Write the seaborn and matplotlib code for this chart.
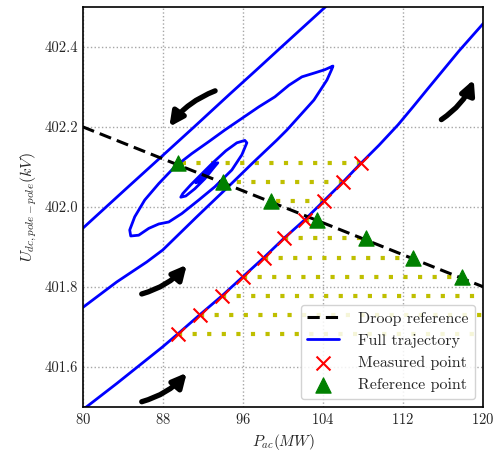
import numpy as np
import pandas as pd
import matplotlib
matplotlib.use('Agg')
import matplotlib.pyplot as plt
import seaborn as sns

# droop reference line (MW, kV)
droop_p = [80.0, 120.0]
droop_u = [402.2, 401.8]

# measured points on the trajectory and matching droop reference points
meas_p = [89.5, 91.7, 93.9, 96.0, 98.1, 100.1, 102.2, 104.1, 106.0, 107.8]
meas_u = [401.682, 401.730, 401.777, 401.825, 401.873, 401.921, 401.968, 402.015, 402.062, 402.109]
ref_p = [132.2, 127.4, 122.6, 117.9, 113.0, 108.3, 103.4, 98.8, 94.0, 89.5]
ref_u = meas_u

# full trajectory (goes outside the axes between sweeps)
traj_p = [79.0, 80.4, 83.4, 85.7, 88.0, 89.5, 91.7, 93.9, 96.0, 98.1, 100.1, 102.2, 104.1, 106.0, 107.8,
          109.6, 111.5, 113.0, 114.5, 117.6, 120.0, 122.0, 123.5,
          124.5, 124.0, 115.0, 107.5,
          105.0, 102.5, 100.0, 97.3, 94.7, 91.1, 87.5, 84.2, 80.0, 78.0,
          76.5, 76.0, 77.0, 78.5,
          80.0, 83.4, 86.4, 88.0, 91.4, 94.7, 97.0, 99.4, 100.4, 103.1, 104.4, 104.9, 105.0,
          104.2, 103.2, 101.9, 100.6, 99.2, 97.6, 95.9, 94.2, 92.6, 90.9, 89.2, 87.6, 86.2, 85.2, 84.7, 84.8,
          85.6, 86.6, 87.6, 88.6, 89.9, 91.6, 93.2, 94.9, 95.9, 96.4, 96.2,
          95.4, 94.3, 93.0, 91.8, 90.8, 90.0, 89.8, 90.3, 91.2, 92.2, 93.0, 93.5, 93.2,
          92.4, 91.6, 91.3, 91.7, 92.4, 92.8, 92.4, 92.0]
traj_u = [401.480, 401.500, 401.558, 401.604, 401.650, 401.682, 401.730, 401.777, 401.825, 401.873, 401.921,
          401.968, 402.015, 402.062, 402.109,
          402.154, 402.205, 402.250, 402.296, 402.390, 402.458, 402.510, 402.545,
          402.575, 402.610, 402.640, 402.580,
          402.517, 402.460, 402.403, 402.341, 402.282, 402.199, 402.117, 402.042, 401.946, 401.900,
          401.850, 401.790, 401.740, 401.735,
          401.748, 401.812, 401.862, 401.892, 401.975, 402.054, 402.110, 402.167, 402.192, 402.267, 402.317,
          402.345, 402.352,
          402.343, 402.335, 402.325, 402.304, 402.275, 402.250, 402.221, 402.192, 402.163, 402.133, 402.100,
          402.058, 402.017, 401.975, 401.942, 401.927,
          401.929, 401.946, 401.957, 401.962, 401.983, 402.017, 402.050, 402.092, 402.130, 402.160, 402.166,
          402.160, 402.140, 402.110, 402.080, 402.055, 402.033, 402.024, 402.027, 402.045, 402.070, 402.095,
          402.110, 402.108,
          402.090, 402.070, 402.060, 402.064, 402.082, 402.094, 402.088, 402.078]

# direction arrows: (start, end)
arrows = [((85.9, 401.5125), (90.4, 401.585)),
          ((85.9, 401.782), (90.4, 401.855)),
          ((93.23, 402.29), (88.66, 402.2)),
          ((115.83, 402.218), (119.06, 402.318))]

traj = pd.DataFrame({'P': traj_p, 'U': traj_u})

sns.set_style('whitegrid')
plt.rcParams['font.family'] = 'serif'
plt.rcParams['font.serif'] = ['cmr10']
plt.rcParams['mathtext.fontset'] = 'cm'
plt.rcParams['axes.formatter.use_mathtext'] = True

fig, ax = plt.subplots(figsize=(4.95, 4.57), dpi=100)
fig.subplots_adjust(left=0.167, right=0.976, bottom=0.110, top=0.985)

ax.plot(droop_p, droop_u, color='k', lw=2.2, dashes=(4, 2), label='Droop reference', zorder=3)
sns.lineplot(data=traj, x='P', y='U', sort=False, estimator=None, color='b', lw=2,
             label='Full trajectory', ax=ax, zorder=2)
ax.hlines(meas_u, meas_p, ref_p, colors=(0.75, 0.75, 0), linestyles=(0, (1, 2.5)), lw=3, zorder=1)
sns.scatterplot(x=meas_p, y=meas_u, marker='x', color='r', s=100, linewidth=1.5,
                label='Measured point', ax=ax, zorder=4)
sns.scatterplot(x=ref_p, y=ref_u, marker='^', color='g', edgecolor='g', s=120,
                label='Reference point', ax=ax, zorder=4)

for (x0, y0), (x1, y1) in arrows:
    ax.annotate('', xy=(x1, y1), xytext=(x0, y0),
                arrowprops=dict(arrowstyle='-|>,head_length=0.7,head_width=0.35', lw=3.8, color='k',
                                connectionstyle='arc3,rad=0.15', shrinkA=0, shrinkB=0,
                                mutation_scale=12))

ax.set_xlim(80, 120)
ax.set_ylim(401.5, 402.5)
ax.set_xticks([80, 88, 96, 104, 112, 120])
ax.set_yticks([401.6, 401.8, 402.0, 402.2, 402.4])
ax.set_yticklabels(['401.6', '401.8', '402.0', '402.2', '402.4'])
ax.set_xlabel('$P_{ac}(MW)$', fontsize=11)
ax.set_ylabel('$U_{dc,pole-pole}(kV)$', fontsize=11.5)
ax.tick_params(labelsize=10.5, direction='in', length=3, color='0.5')
ax.grid(True, linestyle=':', color='0.65', lw=1)
for s in ax.spines.values():
    s.set_color('k')
    s.set_linewidth(1.2)

ax.legend(loc='lower right', fontsize=11.5, framealpha=0.85, edgecolor='0.8', handletextpad=1.2)

fig.savefig('out.png', dpi=100)
